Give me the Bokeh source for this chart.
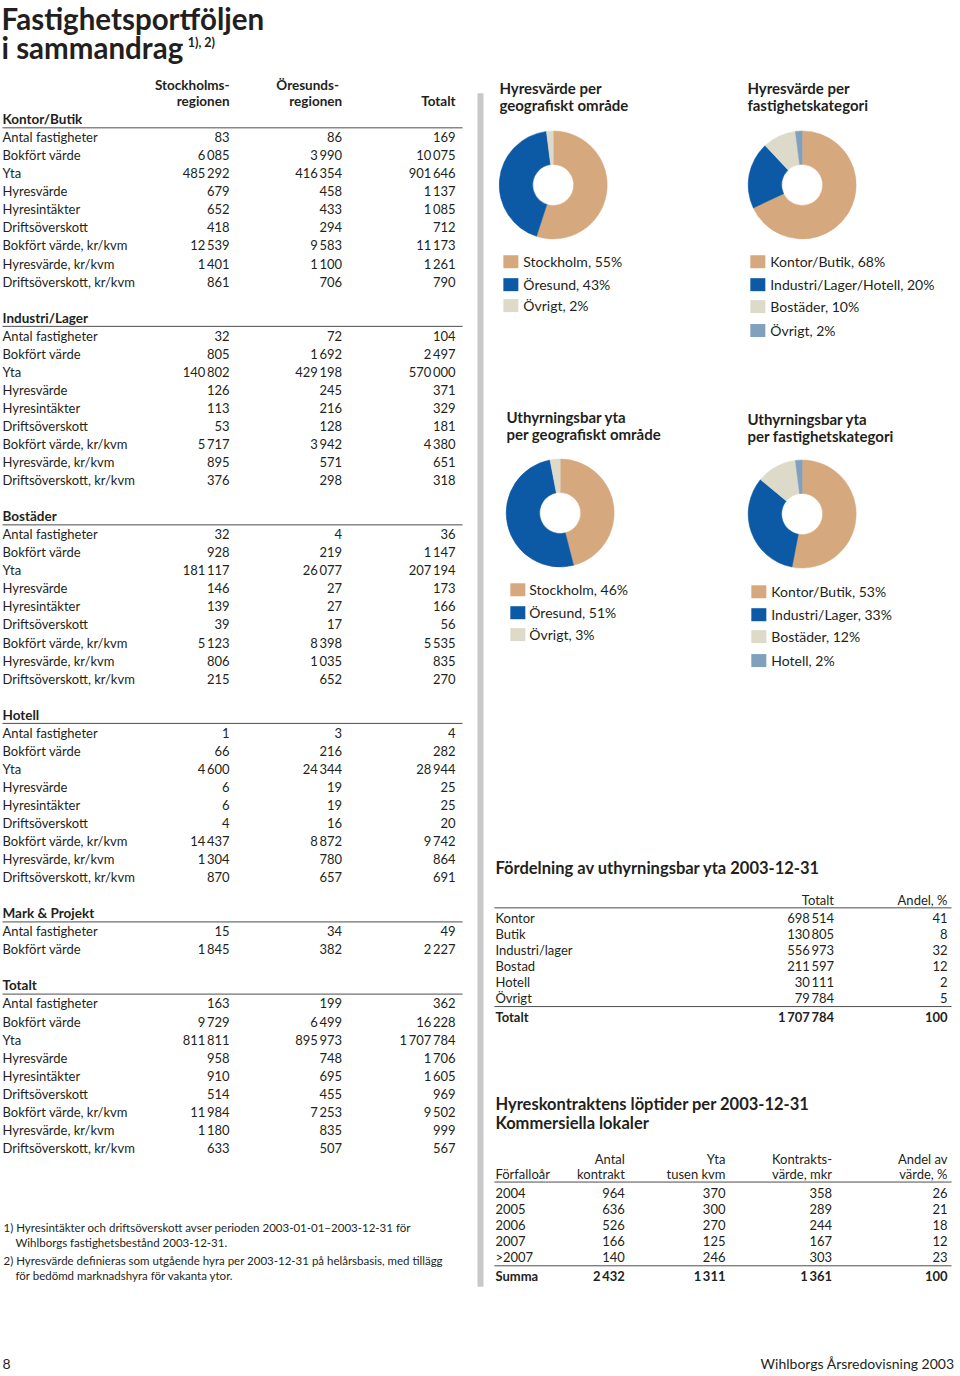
import numpy as np
from bokeh.plotting import figure
from bokeh.models import Range1d, ColumnDataSource
from bokeh.core.properties import value
from bokeh.embed import file_html
from bokeh.resources import INLINE

# ------------------------------------------------------------------ DATA
title_line1 = "Fastighetsportföljen"
title_line2 = "i sammandrag"
title_sup = "1), 2)"

col_head_top = ["Stockholms-", "Öresunds-"]
col_head_bottom = ["regionen", "regionen", "Totalt"]

row_labels = ["Antal fastigheter", "Bokfört värde", "Yta", "Hyresvärde", "Hyresintäkter",
              "Driftsöverskott", "Bokfört värde, kr/kvm", "Hyresvärde, kr/kvm",
              "Driftsöverskott, kr/kvm"]
mark_labels = ["Antal fastigheter", "Bokfört värde"]

section_names = ["Kontor/Butik", "Industri/Lager", "Bostäder", "Hotell", "Mark & Projekt", "Totalt"]

kontor_sthlm = [83, 6085, 485292, 679, 652, 418, 12539, 1401, 861]
kontor_oresund = [86, 3990, 416354, 458, 433, 294, 9583, 1100, 706]
kontor_total = [169, 10075, 901646, 1137, 1085, 712, 11173, 1261, 790]

industri_sthlm = [32, 805, 140802, 126, 113, 53, 5717, 895, 376]
industri_oresund = [72, 1692, 429198, 245, 216, 128, 3942, 571, 298]
industri_total = [104, 2497, 570000, 371, 329, 181, 4380, 651, 318]

bostader_sthlm = [32, 928, 181117, 146, 139, 39, 5123, 806, 215]
bostader_oresund = [4, 219, 26077, 27, 27, 17, 8398, 1035, 652]
bostader_total = [36, 1147, 207194, 173, 166, 56, 5535, 835, 270]

hotell_sthlm = [1, 66, 4600, 6, 6, 4, 14437, 1304, 870]
hotell_oresund = [3, 216, 24344, 19, 19, 16, 8872, 780, 657]
hotell_total = [4, 282, 28944, 25, 25, 20, 9742, 864, 691]

mark_sthlm = [15, 1845]
mark_oresund = [34, 382]
mark_total = [49, 2227]

totalt_sthlm = [163, 9729, 811811, 958, 910, 514, 11984, 1180, 633]
totalt_oresund = [199, 6499, 895973, 748, 695, 455, 7253, 835, 507]
totalt_total = [362, 16228, 1707784, 1706, 1605, 969, 9502, 999, 567]

footnotes = [
    ("1) Hyresintäkter och driftsöverskott avser perioden 2003-01-01–2003-12-31 för", 0),
    ("Wihlborgs fastighetsbestånd 2003-12-31.", 1),
    ("2) Hyresvärde definieras som utgående hyra per 2003-12-31 på helårsbasis, med tillägg", 0),
    ("för bedömd marknadshyra för vakanta ytor.", 1),
]

# Donut charts
pie1_title = ["Hyresvärde per", "geografiskt område"]
pie1_labels = ["Stockholm", "Öresund", "Övrigt"]
pie1_values = [55, 43, 2]

pie2_title = ["Hyresvärde per", "fastighetskategori"]
pie2_labels = ["Kontor/Butik", "Industri/Lager/Hotell", "Bostäder", "Övrigt"]
pie2_values = [68, 20, 10, 2]

pie3_title = ["Uthyrningsbar yta", "per geografiskt område"]
pie3_labels = ["Stockholm", "Öresund", "Övrigt"]
pie3_values = [46, 51, 3]

pie4_title = ["Uthyrningsbar yta", "per fastighetskategori"]
pie4_labels = ["Kontor/Butik", "Industri/Lager", "Bostäder", "Hotell"]
pie4_values = [53, 33, 12, 2]

# Fördelning av uthyrningsbar yta
dist_title = "Fördelning av uthyrningsbar yta 2003-12-31"
dist_headers = ["Totalt", "Andel, %"]
dist_categories = ["Kontor", "Butik", "Industri/lager", "Bostad", "Hotell", "Övrigt"]
dist_area = [698514, 130805, 556973, 211597, 30111, 79784]
dist_share = [41, 8, 32, 12, 2, 5]
dist_total_label = "Totalt"
dist_total_area = 1707784
dist_total_share = 100

# Hyreskontraktens löptider
lease_title = ["Hyreskontraktens löptider per 2003-12-31", "Kommersiella lokaler"]
lease_head_top = ["Antal", "Yta", "Kontrakts-", "Andel av"]
lease_head_bottom = ["Förfalloår", "kontrakt", "tusen kvm", "värde, mkr", "värde, %"]
lease_years = ["2004", "2005", "2006", "2007", ">2007"]
lease_count = [964, 636, 526, 166, 140]
lease_area = [370, 300, 270, 125, 246]
lease_value = [358, 289, 244, 167, 303]
lease_share = [26, 21, 18, 12, 23]
lease_sum_label = "Summa"
lease_sum = [2432, 1311, 1361, 100]

page_number = "8"
page_footer = "Wihlborgs Årsredovisning 2003"

# ------------------------------------------------------------------ STYLE
FONT = "Lato"
INK = "#231f20"
RULE = "#4d4d4d"
TAN = "#d6a87e"
BLUE = "#0c5aa6"
BEIGE = "#dedaca"
SLATE = "#80a0be"
pie_colors3 = [TAN, BLUE, BEIGE]
pie_colors4 = [TAN, BLUE, BEIGE, SLATE]
BODY = 13


def fmt(v):
    return f"{v:,}".replace(",", "\u2009")


p = figure(width=956, height=1372, x_range=Range1d(0, 960), y_range=Range1d(1376, 0),
           output_backend="svg", toolbar_location=None,
           x_axis_location=None, y_axis_location=None,
           min_border=0, min_border_left=0, min_border_right=0,
           min_border_top=0, min_border_bottom=0)
p.grid.visible = False
p.outline_line_color = None
p.background_fill_color = "white"
p.border_fill_color = "white"

texts = {}


def txt(x, y, s, size=BODY, bold=False, align="left", color=INK):
    key = (size, bold, align, color)
    d = texts.setdefault(key, {"x": [], "y": [], "t": []})
    d["x"].append(x)
    d["y"].append(y)
    d["t"].append(s)


segs = {"x0": [], "y0": [], "x1": [], "y1": []}


def rule(x0, x1, y):
    segs["x0"].append(x0); segs["x1"].append(x1)
    segs["y0"].append(y); segs["y1"].append(y)


# ------------------------------------------------------------------ TITLE
txt(1, 18, title_line1, size=29.5, bold=True)
txt(1, 47, title_line2, size=29.5, bold=True)
txt(188, 42, title_sup, size=12.5, bold=True)

# ------------------------------------------------------------------ LEFT TABLE
C1, C2, C3 = 230, 343, 457
txt(C1, 85, col_head_top[0], size=13.5, bold=True, align="right")
txt(277, 85, col_head_top[1], size=13.5, bold=True, align="left")
for cx, s in zip([C1, C2, C3], col_head_bottom):
    txt(cx, 101, s, size=13.5, bold=True, align="right")

sections = [
    (section_names[0], row_labels, kontor_sthlm, kontor_oresund, kontor_total),
    (section_names[1], row_labels, industri_sthlm, industri_oresund, industri_total),
    (section_names[2], row_labels, bostader_sthlm, bostader_oresund, bostader_total),
    (section_names[3], row_labels, hotell_sthlm, hotell_oresund, hotell_total),
    (section_names[4], mark_labels, mark_sthlm, mark_oresund, mark_total),
    (section_names[5], row_labels, totalt_sthlm, totalt_oresund, totalt_total),
]
ROW = 18.1
y = 119.0
for name, labels, a, b, c in sections:
    txt(2, y, name, size=13.5, bold=True)
    rule(2, 464, y + 8.7)
    for i, lab in enumerate(labels):
        yy = y + ROW * (i + 1)
        txt(2, yy, lab)
        txt(C1, yy, fmt(a[i]), align="right")
        txt(C2, yy, fmt(b[i]), align="right")
        txt(C3, yy, fmt(c[i]), align="right")
    y += ROW * (len(labels) + 2)

for k, (s, indent) in enumerate(footnotes):
    txt(3 + 12 * indent, [1231, 1246, 1264, 1279][k], s, size=11.5)

txt(2, 1367, page_number, size=14)
txt(958, 1367, page_footer, size=14, align="right")

# vertical grey bar
p.segment(x0=[482], y0=[93], x1=[482], y1=[1290], line_color="#c8c8c8", line_width=6)

# ------------------------------------------------------------------ DONUTS


def donut(cx, cy, vals, colors, title, tx, ty, labels, sqx, ys, lx):
    n = len(vals)
    fr = np.array(vals, dtype=float) / float(sum(vals))
    cum = np.concatenate([[0.0], np.cumsum(fr)])
    start = np.pi / 2 - 2 * np.pi * cum[:-1]
    end = np.pi / 2 - 2 * np.pi * cum[1:]
    src = ColumnDataSource(dict(x=[cx] * n, y=[cy] * n, s=start, e=end, c=colors))
    p.annular_wedge(x="x", y="y", inner_radius=20.5, outer_radius=54,
                    inner_radius_units="screen", outer_radius_units="screen",
                    start_angle="s", end_angle="e", direction="clock",
                    fill_color="c", line_color="c", line_width=0.5, source=src)
    txt(tx, ty, title[0], size=15, bold=True)
    txt(tx, ty + 17, title[1], size=15, bold=True)
    p.rect(x=[sqx] * n, y=ys, width=15, height=13, width_units="screen",
           height_units="screen", fill_color=colors, line_color=None)
    for lab, v, yy in zip(labels, vals, ys):
        txt(lx, yy, f"{lab}, {v}%", size=14)


donut(555, 185, pie1_values, pie_colors3, pie1_title, 501, 88, pie1_labels, 512.5, [262, 285, 306], 525)
donut(805, 185, pie2_values, pie_colors4, pie2_title, 750, 88, pie2_labels, 760.5, [262, 285, 307, 331], 773)
donut(562, 514, pie3_values, pie_colors3, pie3_title, 508, 418, pie3_labels, 519.5, [591, 614, 636], 531)
donut(805, 515, pie4_values, pie_colors4, pie4_title, 750, 420, pie4_labels, 761.5, [593, 616, 638, 662], 774)

# ------------------------------------------------------------------ DISTRIBUTION TABLE
txt(497, 870, dist_title, size=16.5, bold=True)
txt(837, 902, dist_headers[0], align="right")
txt(951, 902, dist_headers[1], align="right")
rule(496, 955, 910)
for i, (cat, a, s) in enumerate(zip(dist_categories, dist_area, dist_share)):
    yy = 920 + 16 * i
    txt(497, yy, cat)
    txt(837, yy, fmt(a), align="right")
    txt(951, yy, fmt(s), align="right")
rule(496, 955, 1009)
txt(497, 1019, dist_total_label, bold=True)
txt(837, 1019, fmt(dist_total_area), bold=True, align="right")
txt(951, 1019, fmt(dist_total_share), bold=True, align="right")

# ------------------------------------------------------------------ LEASE TABLE
LC = [627, 728, 835, 951]
txt(497, 1107, lease_title[0], size=16.5, bold=True)
txt(497, 1126, lease_title[1], size=16.5, bold=True)
for cx, s in zip(LC, lease_head_top):
    txt(cx, 1162, s, align="right")
txt(497, 1177, lease_head_bottom[0])
for cx, s in zip(LC, lease_head_bottom[1:]):
    txt(cx, 1177, s, align="right")
rule(496, 955, 1185)
for i, yr in enumerate(lease_years):
    yy = 1196 + 16 * i
    txt(497, yy, yr)
    for cx, arr in zip(LC, [lease_count, lease_area, lease_value, lease_share]):
        txt(cx, yy, fmt(arr[i]), align="right")
rule(496, 955, 1269)
txt(497, 1279, lease_sum_label, bold=True)
for cx, v in zip(LC, lease_sum):
    txt(cx, 1279, fmt(v), bold=True, align="right")

# ------------------------------------------------------------------ DRAW
p.segment(x0="x0", y0="y0", x1="x1", y1="y1", source=ColumnDataSource(segs),
          line_color=RULE, line_width=1)

for (size, bold, align, color), d in texts.items():
    p.text(x="x", y="y", text="t", source=ColumnDataSource(d),
           text_font=value(FONT), text_font_size=value(f"{size}px"),
           text_font_style="bold" if bold else "normal",
           text_align=align, text_baseline="middle", text_color=color)

open("out.html", "w").write(file_html(p, INLINE))
